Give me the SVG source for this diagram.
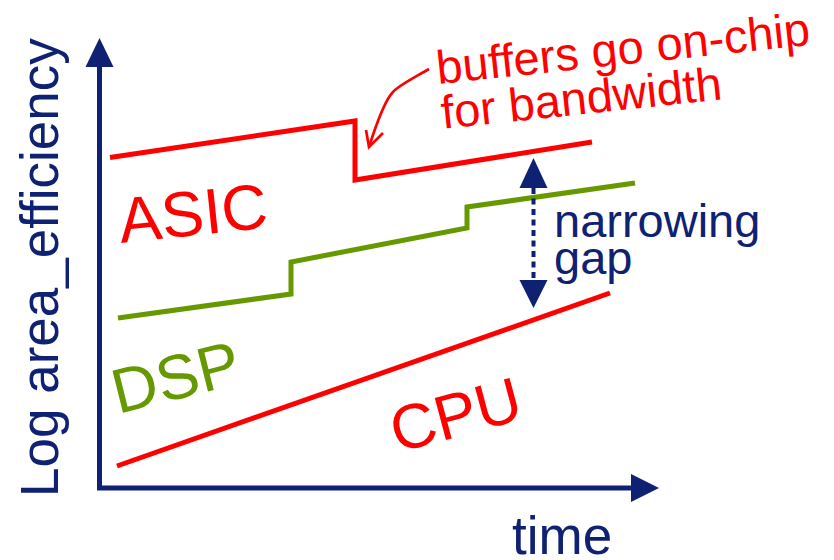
<svg xmlns="http://www.w3.org/2000/svg" width="834" height="560" viewBox="0 0 834 560">
<style>
text{font-family:"Liberation Sans",Arial,sans-serif}
.navy{fill:#0f2173}
.red{fill:#ff0000}
.green{fill:#669900}
.ln{fill:none;stroke-linejoin:miter;stroke-linecap:butt}
</style>
<rect width="834" height="560" fill="#fff"/>
<g id="axes">
<path class="ln" d="M99.5,488 V67" stroke="#0f2173" stroke-width="5"/>
<path d="M85.5,67 L99.5,38 L113.5,67 Z" fill="#0f2173"/>
<path class="ln" d="M97,488 H631" stroke="#0f2173" stroke-width="5"/>
<path d="M631,474 L659,488 L631,502 Z" fill="#0f2173"/>
</g>
<g id="ylabel"><text class="navy" font-size="53" transform="translate(58,497) rotate(-90)">Log area_efficiency</text></g>
<g id="xlabel"><text class="navy" font-size="53" x="512" y="554">time</text></g>
<g id="asic">
<path class="ln" d="M110,157.5 L355,121 V180 L592,142" stroke="#ff0000" stroke-width="5"/>
<text class="red" font-size="64" transform="translate(121,243) rotate(-6)">ASIC</text>
</g>
<g id="dsp">
<path class="ln" d="M118,318 L291,294 V262 L467,228 V207 L635,183" stroke="#669900" stroke-width="5"/>
<text class="green" font-size="63" transform="translate(118,414) rotate(-14)">DSP</text>
</g>
<g id="cpu">
<path class="ln" d="M117,466 L610,293" stroke="#ff0000" stroke-width="5"/>
<text class="red" font-size="63" transform="translate(397,453) rotate(-15)">CPU</text>
</g>
<g id="note">
<text class="red" font-size="47" transform="translate(438,84) rotate(-6)"><tspan x="0" y="0">buffers go on-chip</tspan><tspan x="0" y="45">for bandwidth</tspan></text>
</g>
<g id="gaplabel">
<text class="navy" font-size="47"><tspan x="554" y="237">narrowing</tspan><tspan x="554" y="274">gap</tspan></text>
</g>
<g id="connectors">
<path class="ln" d="M429,69 C410,80 398,86 393,92 C385,100 376,125 369,147" stroke="#ff0000" stroke-width="2.7" stroke-linecap="round"/>
<path class="ln" d="M366,130 L369,147 L383,133" stroke="#ff0000" stroke-width="2.7" stroke-linecap="round" stroke-linejoin="round"/>
<path class="ln" d="M533.5,188 V280" stroke="#0f2173" stroke-width="4" stroke-dasharray="6,4.5"/>
<path d="M519.5,188 L533.5,158 L547.5,188 Z" fill="#0f2173"/>
<path d="M519.5,280 L533.5,308 L547.5,280 Z" fill="#0f2173"/>
</g>
</svg>
